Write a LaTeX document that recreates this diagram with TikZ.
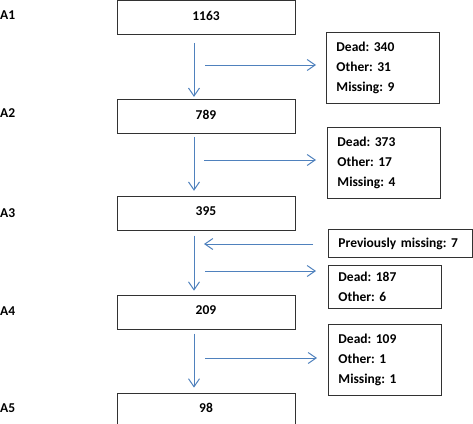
\documentclass[tikz,border=0pt]{standalone}
\usepackage{fontspec}
\setmainfont{Carlito}
\usetikzlibrary{arrows.meta,positioning}
\definecolor{flowblue}{RGB}{79,129,189}
\definecolor{boxline}{RGB}{50,50,50}
\frenchspacing

\begin{document}
\begin{tikzpicture}[
    x=1pt, y=-1pt,
    node distance=64pt,
    countbox/.style={rectangle, draw=boxline, line width=0.9pt, minimum width=178pt,
                 minimum height=34pt, inner sep=0pt, text depth=4pt, font=\fontsize{13.5}{16}\selectfont\bfseries},
    lossbox/.style={rectangle, draw=boxline, line width=0.9pt, anchor=north west, align=left,
                 text width=93pt, inner xsep=10pt, inner ysep=0pt, font=\fontsize{13.5}{20}\selectfont\bfseries},
    stage/.style={anchor=west, inner sep=0pt, font=\fontsize{13.5}{16}\selectfont\bfseries},
    arr/.style={-{Straight Barb[length=8pt,width=11pt]}, flowblue, line width=1pt}
]
\useasboundingbox (0,0) rectangle (473,423);
% main counts
\node[countbox, anchor=north] (n1) at (206,0) {1163};
\node[countbox, below=64pt of n1] (n2) {789};
\node[countbox, below=62pt of n2] (n3) {395};
\node[countbox, below=64pt of n3] (n4) {209};
\node[countbox, below=63pt of n4] (n5) {98};
% stage labels
\node[stage] (a1) at (0,15) {A1};
\node[stage] (a2) at (0,113) {A2};
\node[stage] (a3) at (0,213) {A3};
\node[stage] (a4) at (0,311) {A4};
\node[stage] (a5) at (0,408) {A5};
% losses
\node[lossbox, minimum height=71pt] (s1) at (326,32) {Dead: 340\\Other: 31\\Missing: 9};
\node[lossbox, minimum height=71pt] (s2) at (327,127) {Dead: 373\\Other: 17\\Missing: 4};
\node[lossbox, minimum height=28pt, text width=124pt] (p3) at (328,229) {Previously missing: 7};
\node[lossbox, minimum height=43pt] (s3) at (328,265) {Dead: 187\\Other: 6};
\node[lossbox, minimum height=71pt] (s4) at (328,324) {Dead: 109\\Other: 1\\Missing: 1};
% branch points
\coordinate (h1) at (205,65);
\coordinate (h2) at (204,160);
\coordinate (h3) at (204,244);
\coordinate (h4) at (205,271);
\coordinate (h5) at (205,358);
\draw[arr, shorten <=8pt, shorten >=2pt] ([xshift=-12pt]n1.south) -- ([xshift=-12pt]n2.north);
\draw[arr, shorten <=3pt, shorten >=5pt] ([xshift=-12pt]n2.south) -- ([xshift=-12pt]n3.north);
\draw[arr, shorten <=5pt, shorten >=4pt] ([xshift=-12pt]n3.south) -- ([xshift=-12pt]n4.north);
\draw[arr, shorten <=4pt, shorten >=5pt] ([xshift=-12pt]n4.south) -- ([xshift=-12pt]n5.north);
\draw[arr, shorten >=10pt] (h1) -- (s1.west |- h1);
\draw[arr, shorten >=11pt] (h2) -- (s2.west |- h2);
\draw[arr, shorten <=15pt] (p3.west |- h3) -- (h3);
\draw[arr, shorten >=12pt] (h4) -- (s3.west |- h4);
\draw[arr, shorten >=11pt] (h5) -- (s4.west |- h5);
\end{tikzpicture}
\end{document}
